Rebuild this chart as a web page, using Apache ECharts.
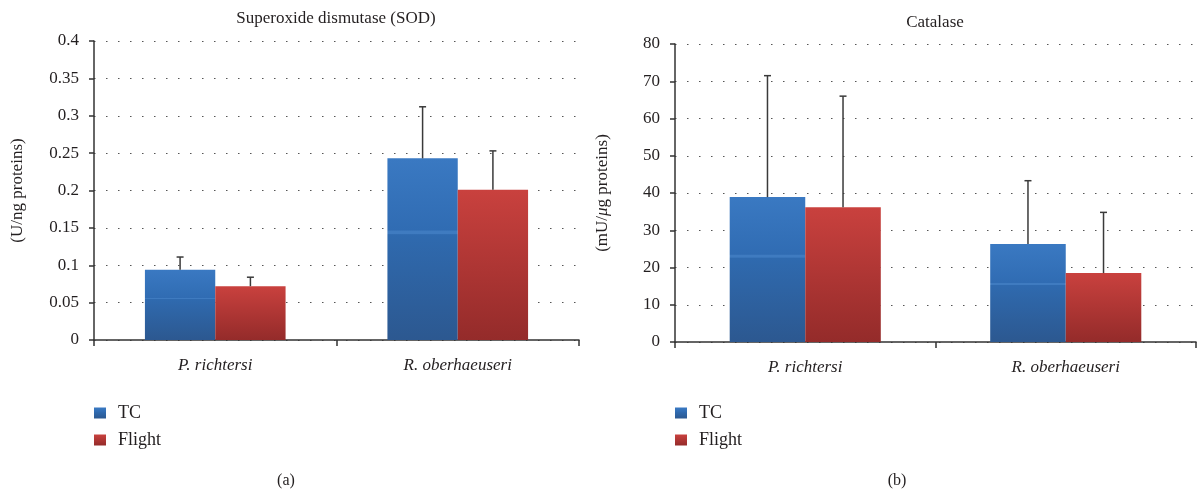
<!DOCTYPE html>
<html>
<head>
<meta charset="utf-8">
<script src="https://cdn.jsdelivr.net/npm/echarts@6/dist/echarts.min.js"></script>
<style>
html,body{margin:0;padding:0;background:#fff;}
#chart{width:1198px;height:497px;}
</style>
</head>
<body>
<div id="chart"></div>
<script>
const categories = ['P. richtersi', 'R. oberhaeuseri'];
const seriesNames = ['TC', 'Flight'];
// SOD (U/ng proteins)
const sodTC = [0.094, 0.243];
const sodTCSd = [0.017, 0.069];
const sodFlight = [0.072, 0.201];
const sodFlightSd = [0.012, 0.052];
// Catalase (mU/µg proteins)
const catTC = [38.9, 26.3];
const catTCSd = [32.6, 17.0];
const catFlight = [36.2, 18.5];
const catFlightSd = [29.8, 16.3];

const FONT = 'Liberation Serif';
const TXT = '#231f20';

const blueGrad = new echarts.graphic.LinearGradient(0, 0, 0, 1, [
  {offset: 0, color: '#3a79c2'},
  {offset: 0.395, color: '#306cb3'},
  {offset: 0.40, color: '#3f7bc0'},
  {offset: 0.415, color: '#3f7bc0'},
  {offset: 0.42, color: '#2f6aaf'},
  {offset: 1, color: '#2c5890'}
]);
const redGrad = new echarts.graphic.LinearGradient(0, 0, 0, 1, [
  {offset: 0, color: '#c9413e'},
  {offset: 1, color: '#942b2a'}
]);

function errSeries(name, xi, vals, sds, off) {
  return {
    type: 'custom',
    name: name + ' err',
    xAxisIndex: xi, yAxisIndex: xi,
    z: 10,
    silent: true,
    encode: {x: 0, y: 1},
    data: vals.map((v, i) => [i, v, sds[i]]),
    renderItem: function (params, api) {
      const i = api.value(0), m = api.value(1), s = api.value(2);
      const base = api.coord([i, m]);
      const top = api.coord([i, m + s]);
      const band = api.size([1, 0])[0];
      const x = base[0] + off * band;
      const st = {stroke: '#3a3a3a', lineWidth: 1.5};
      return {
        type: 'group',
        children: [
          {type: 'line', shape: {x1: x, y1: base[1], x2: x, y2: top[1]}, style: st},
          {type: 'line', shape: {x1: x - 3.5, y1: top[1], x2: x + 3.5, y2: top[1]}, style: st}
        ]
      };
    }
  };
}

function barSeries(name, xi, vals, color) {
  return {
    type: 'bar', name: name, xAxisIndex: xi, yAxisIndex: xi,
    data: vals, barGap: 0, barCategoryGap: '42%',
    itemStyle: {color: color}
  };
}

function xAxis(gi) {
  return {
    type: 'category', gridIndex: gi, data: categories,
    axisLine: {lineStyle: {color: '#333', width: 1.5}},
    axisTick: {show: true, length: 6, lineStyle: {color: '#333', width: 1.5}},
    axisLabel: {fontFamily: FONT, fontStyle: 'italic', fontSize: 17, color: TXT, margin: 17},
    splitLine: {show: false}
  };
}

function yAxis(gi, max, interval, name, nameGap) {
  return {
    type: 'value', gridIndex: gi, min: 0, max: max, interval: interval,
    name: name, nameLocation: 'middle', nameGap: nameGap, nameRotate: 90,
    nameTextStyle: {fontFamily: FONT, fontSize: 17, color: TXT,
      rich: {i: {fontFamily: FONT, fontSize: 17, fontStyle: 'italic', color: TXT}}},
    axisLine: {show: true, lineStyle: {color: '#333', width: 1.5}},
    axisTick: {show: true, length: 5, lineStyle: {color: '#333', width: 1.5}},
    axisLabel: {fontFamily: FONT, fontSize: 17, color: TXT, margin: 15},
    splitLine: {show: true, lineStyle: {color: '#555', width: 1.2, type: [1.5, 10.5]}}
  };
}

const chart = echarts.init(document.getElementById('chart'), null, {renderer: 'canvas'});
chart.setOption({
  animation: false,
  backgroundColor: '#fff',
  title: [
    {text: 'Superoxide dismutase (SOD)', left: 336, top: 10, textAlign: 'center', padding: 0,
      textStyle: {fontFamily: FONT, fontSize: 17, fontWeight: 'normal', color: TXT}},
    {text: 'Catalase', left: 935, top: 14, textAlign: 'center', padding: 0,
      textStyle: {fontFamily: FONT, fontSize: 17, fontWeight: 'normal', color: TXT}},
    {text: '(a)', left: 286, top: 473, textAlign: 'center', padding: 0,
      textStyle: {fontFamily: FONT, fontSize: 16, fontWeight: 'normal', color: TXT}},
    {text: '(b)', left: 897, top: 473, textAlign: 'center', padding: 0,
      textStyle: {fontFamily: FONT, fontSize: 16, fontWeight: 'normal', color: TXT}}
  ],
  legend: [
    {data: seriesNames, orient: 'vertical', left: 94, top: 403, icon: 'rect',
      itemWidth: 12, itemHeight: 11, itemGap: 7, padding: 0, selectedMode: false,
      textStyle: {fontFamily: FONT, fontSize: 18, color: TXT, lineHeight: 20, padding: [0, 0, 0, 7]}},
    {data: seriesNames, orient: 'vertical', left: 675, top: 403, icon: 'rect',
      itemWidth: 12, itemHeight: 11, itemGap: 7, padding: 0, selectedMode: false,
      textStyle: {fontFamily: FONT, fontSize: 18, color: TXT, lineHeight: 20, padding: [0, 0, 0, 7]}}
  ],
  grid: [
    {left: 94, top: 41, width: 485, height: 299, containLabel: false},
    {left: 675, top: 44, width: 521, height: 298, containLabel: false}
  ],
  xAxis: [xAxis(0), xAxis(1)],
  yAxis: [
    yAxis(0, 0.4, 0.05, '(U/ng proteins)', 68),
    yAxis(1, 80, 10, '(mU/{i|μ}g proteins)', 64)
  ],
  series: [
    barSeries('TC', 0, sodTC, blueGrad),
    barSeries('Flight', 0, sodFlight, redGrad),
    barSeries('TC', 1, catTC, blueGrad),
    barSeries('Flight', 1, catFlight, redGrad),
    errSeries('TC', 0, sodTC, sodTCSd, -0.145),
    errSeries('Flight', 0, sodFlight, sodFlightSd, 0.145),
    errSeries('TC', 1, catTC, catTCSd, -0.145),
    errSeries('Flight', 1, catFlight, catFlightSd, 0.145)
  ]
});
</script>
</body>
</html>
